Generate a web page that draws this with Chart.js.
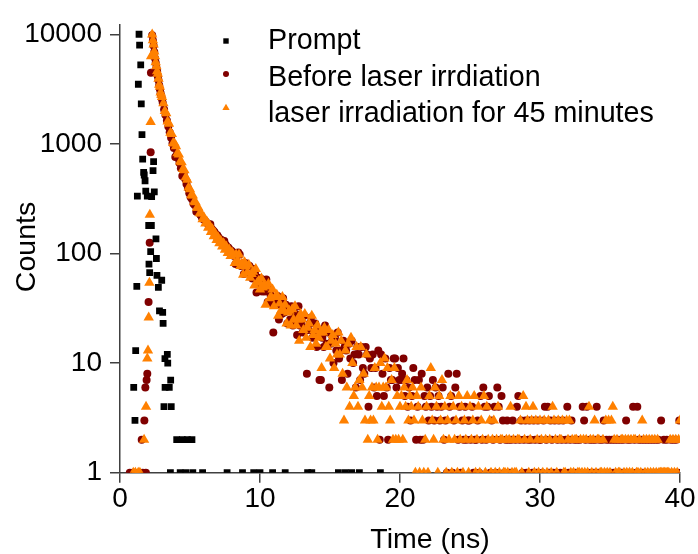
<!DOCTYPE html>
<html>
<head>
<meta charset="utf-8">
<script src="https://cdn.jsdelivr.net/npm/chart.js@4.4.1/dist/chart.umd.min.js"></script>
<style>
  html, body { margin: 0; padding: 0; background: #fff; }
  canvas { display: block; }
</style>
</head>
<body>
<canvas id="decay" width="698" height="554"></canvas>
<script>
// axis ticks
const xTicks = [0, 10, 20, 30, 40];
const yTicks = [1, 10, 100, 1000, 10000];
const seriesNames = ['Prompt', 'Before laser irrdiation', 'laser irradiation for 45 minutes'];

// [time (ns), counts]
const promptData = [
  [0.98,6],[1.07,3],[1.12,13],[1.2,50],[1.24,334],[1.31,3500],[1.36,10000],[1.4,7950],[1.48,5260],
  [1.52,2320],[1.57,1213],[1.62,725],[1.69,550],[1.73,520],[1.79,461],[1.84,370],[1.95,334],[2.05,180],
  [2.07,80],[2.12,67],[2.19,104],[2.24,180],[2.26,330],[2.36,570],[2.4,690],[2.45,365],[2.57,136],
  [2.6,90],[2.64,63],[2.74,49],[2.82,30],[2.98,57],[3.05,29],[3.08,23],[3.14,4],[3.21,11],[3.22,6],
  [3.38,12],[3.41,10],[3.52,6],[3.62,7],[3.66,4],[3.6,1],[4.05,2],[4.3,1],[4.45,2],[4.7,1],[4.81,2],
  [5.14,2],[5.2,1],[5.9,1],[7.65,1],[8.75,1],[9.55,1],[10,1],[10.9,1],[11.8,1],[13.4,1],[13.7,1],
  [15.6,1],[16.1,1],[16.55,1],[17.1,1],[18.6,1]
];

const beforeData = [
  [0.7,1],[0.9,1],[1.05,1],[1.62,1],[1.85,1],[1.55,2],[1.74,3],[1.81,6],[1.9,7],[1.95,8],[2.04,36],
  [2.12,125],[2.19,838],[2.21,4460],
  [2.3,9800],[2.35,8750],[2.4,7850],[2.45,6900],[2.5,6050],[2.55,5500],[2.6,4950],[2.65,4600],[2.7,4150],
  [2.75,3800],[2.8,3420],[2.85,3150],[2.9,2900],[2.95,2730],[3,2560],
  [3.05,2370],[3.15,2060],[3.25,1830],[3.35,1630],[3.45,1440],[3.55,1275],[3.65,1140],[3.75,1010],
  [3.85,915],[3.95,760],[4.05,795],[4.15,740],[4.25,670],[4.35,600],[4.45,510],[4.55,525],[4.65,480],
  [4.75,430],[4.85,395],[4.95,355],
  [5.05,326],[5.15,312],[5.25,285],[5.35,275],[5.45,240],[5.55,246],[5.65,235],[5.75,224],[5.85,213],
  [5.95,205],[6.05,201],[6.15,193],[6.25,188],[6.35,181],[6.45,185],[6.55,168],[6.65,162],[6.75,157],
  [6.85,149],[6.95,147],[7.05,140],[7.15,134],[7.25,133],[7.35,127],[7.45,130],[7.55,120],[7.65,115],
  [7.75,113],[7.85,108],[7.95,106],[8.05,103],
  [8.15,95],[8.25,80],[8.35,96],[8.45,102],[8.55,98],[8.65,77],[8.75,81],[8.85,65],[8.95,82],[9.05,75],
  [9.15,78],[9.25,77],[9.35,64],[9.45,59],[9.55,72],[9.65,65],[9.75,44],[9.85,60],[9.95,53],[10.05,59],
  [10.15,45],[10.25,51],[10.35,45],[10.45,58],[10.55,36],[10.65,47],[10.75,42],[10.85,35],[10.95,19],
  [11.05,35],[11.15,39],[11.25,41],[11.35,25],[11.45,34],[11.55,28],[11.65,39],[11.75,29],[11.85,34],
  [11.95,23],[12.05,30],
  [12.15,25],[12.25,33],[12.35,22],[12.45,26],[12.55,28],[12.65,18],[12.75,33],[12.85,22],[12.95,24],
  [13.05,19],[13.15,27],[13.25,21],[13.35,8],[13.45,20],[13.55,23],[13.65,26],[13.75,17],[13.85,18],
  [13.95,23],[14.05,14],[14.15,20],[14.25,7],[14.35,7],[14.45,17],[14.55,14],[14.65,22],[14.75,15],
  [14.85,19],[14.95,6],[15.05,15],[15.15,16],[15.25,10],[15.35,17],[15.45,13],[15.55,19],[15.65,11],
  [15.75,13],[15.85,7],[15.95,16],[16.05,14],
  [16.15,13],[16.25,8],[16.35,15],[16.45,11],[16.55,16],[16.65,10],[16.75,12],[16.85,6],[16.95,14],
  [17.05,12],[17.15,7],[17.25,14],[17.35,9],[17.45,8],[17.55,14],[17.65,12],[17.75,4],[17.85,11],
  [17.95,9],[18.05,12],[18.15,6],[18.25,9],[18.35,5],[18.45,13],[18.55,2],[18.65,12],[18.75,8],
  [18.85,5],[18.95,11],[19.05,6],[19.15,2],[19.25,9],[19.35,7],[19.45,7],[19.55,11],[19.65,11],
  [19.75,6],[19.85,9],[19.95,7],[20.05,7],
  [20.15,8],[20.25,11],[20.35,5],[20.45,7],[20.55,4],[20.65,6],[20.75,3],[20.85,5],[20.95,9],[21.05,7],
  [21.15,2],[21.25,4],[21.35,7],[21.45,2],[21.55,8],[21.65,2],[21.75,5],[21.85,4],[21.95,6],[22.05,3],
  [22.15,5],[22.25,4],[22.35,7],[22.45,3],[22.55,6],[22.65,4],[22.75,5],[22.85,3],[22.95,4],[23.05,6],
  [23.15,2],[23.25,3],[23.35,1],[23.45,8],[23.55,4],[23.65,5],[23.75,1],[23.85,3],[23.95,6],[24.05,8],
  [24.15,2],[24.25,4],[24.35,1],[24.45,3],[24.55,2],[24.65,4],[24.75,2],[24.85,3],[24.95,3],[25.05,2],
  [25.15,4],[25.25,1],[25.35,2],[25.45,2],[25.55,3],[25.65,1],[25.75,5],[25.85,2],[25.95,6],[26.05,4],
  [26.15,2],[26.25,4],[26.35,5],[26.45,1],[26.55,3],[26.65,2],[26.75,4],[26.85,1],[26.95,6],[27.05,4],
  [27.15,2],[27.25,5],[27.35,3],[27.45,1],[27.55,2],[27.65,3],[27.75,2],[27.85,1],[27.95,2],[28.05,3],
  [28.15,1],[28.25,2],[28.35,4],[28.45,5],[28.55,2],[28.65,3],[28.75,1],[28.85,2],[28.95,3],[29.05,1],
  [29.15,2],[29.25,3],[29.35,2],[29.45,1],[29.55,3],[29.65,2],[29.75,1],[29.85,3],[29.95,2],[30.05,2],
  [30.15,1],[30.25,3],[30.35,4],[30.45,2],[30.55,4],[30.65,1],[30.75,3],[30.85,2],[30.95,1],[31.05,3],
  [31.15,1],[31.25,2],[31.35,3],[31.45,1],[31.55,2],[31.65,3],[31.75,1],[31.85,2],[31.95,4],[32.05,1],
  [32.15,2],[32.25,3],[32.35,1],[32.45,2],[32.55,1],[32.65,2],[32.75,1],[32.85,2],[32.95,1],[33.05,4],
  [33.15,3],[33.25,2],[33.35,4],[33.45,1],[33.55,2],[33.65,1],[33.75,2],[33.85,1],[33.95,2],[34.05,4],
  [34.15,1],[34.25,2],[34.35,1],[34.45,2],[34.55,3],[34.65,1],[34.75,2],[34.85,1],[34.95,2],[35.05,1],
  [35.15,2],[35.25,1],[35.35,2],[35.45,1],[35.55,2],[35.65,1],[35.75,2],[35.85,1],[35.95,2],[36.05,1],
  [36.15,3],[36.25,2],[36.35,1],[36.45,2],[36.55,1],[36.65,4],[36.75,2],[36.85,1],[36.95,4],[37.05,2],
  [37.15,1],[37.25,2],[37.35,1],[37.45,2],[37.55,1],[37.65,2],[37.75,1],[37.85,2],[37.95,1],[38.05,2],
  [38.15,1],[38.25,2],[38.35,1],[38.45,2],[38.55,1],[38.65,3],[38.75,1],[38.85,2],[38.95,1],[39.05,2],
  [39.15,1],[39.25,1],[39.35,2],[39.45,1],[39.55,2],[39.65,1],[39.75,2],[39.85,1],[39.95,3]
];

const afterData = [
  [0.95,1],[1.1,1],[1.3,1],[1.42,1],[1.72,2],[1.86,4],[1.95,11],[2,13],[2.05,26],[2.1,54],[2.13,226],
  [2.19,1585],[2.22,6300],
  [2.3,9930],[2.35,8800],[2.4,8070],[2.45,6980],[2.5,6310],[2.55,5550],[2.6,5110],[2.65,4590],[2.7,4360],
  [2.75,3925],[2.8,3470],[2.85,3320],[2.9,2950],[2.95,2800],[3,2680],
  [3.1,2350],[3.2,1990],[3.3,1900],[3.4,1600],[3.5,1530],[3.6,1260],[3.7,1230],[3.8,1020],[3.9,1010],
  [4,950],[4.1,820],[4.2,800],[4.3,690],[4.4,680],[4.5,590],[4.6,575],[4.7,495],[4.8,470],[4.9,400],[5,385],
  [5.1,340],[5.2,338],[5.3,296],[5.4,294],[5.5,262],[5.6,262],[5.7,233],[5.8,232],[5.9,205],[6,213],
  [6.1,188],[6.2,196],[6.3,172],[6.4,180],[6.5,157],[6.6,166],[6.7,144],[6.8,152],[6.9,133],[7,141],
  [7.1,124],[7.2,131],[7.3,116],[7.4,124],[7.5,108],[7.6,116],[7.7,101],[7.8,109],[7.9,95],[8,102],
  [8.1,98],[8.2,82],[8.3,98],[8.4,86],[8.5,98],[8.6,77],[8.7,81],[8.8,64],[8.9,83],[9,76],
  [9.1,67],[9.2,79],[9.3,60],[9.4,65],[9.5,68],[9.6,51],[9.7,72],[9.8,54],[9.9,56],[10,47],
  [10.1,59],[10.2,49],[10.3,52],[10.4,34],[10.5,50],[10.6,53],[10.7,39],[10.8,40],[10.9,47],[11,33],
  [11.1,40],[11.2,42],[11.3,27],[11.4,35],[11.5,30],[11.6,40],[11.7,30],[11.8,34],[11.9,23],[12,29],
  [12.1,30],[12.2,22],[12.3,31],[12.4,25],[12.5,33],[12.6,22],[12.7,25],[12.8,16],[12.9,28],[13,25],
  [13.1,20],[13.2,28],[13.3,17],[13.4,21],[13.5,23],[13.6,14],[13.7,27],[13.8,18],[13.9,20],[14,15],
  [14.1,22],[14.2,17],[14.3,19],[14.4,9],[14.5,19],[14.6,21],[14.7,14],[14.8,14],[14.9,20],[15,11],
  [15.1,16],[15.2,18],[15.3,9],[15.4,15],[15.5,12],[15.6,19],[15.7,12],[15.8,16],[15.9,8],[16,3],
  [16.1,13],[16.2,6],[16.3,15],[16.4,4],[16.5,17],[16.6,10],[16.7,5],[16.8,6],[16.9,14],[17,4],
  [17.1,7],[17.2,14],[17.3,6],[17.4,8],[17.5,3],[17.6,12],[17.7,2],[17.8,5],[17.9,3],[18,6],
  [18.1,3],[18.2,9],[18.3,6],[18.4,2],[18.5,6],[18.6,10],[18.7,4],[18.8,6],[18.9,11],[19,6],
  [19.1,9],[19.2,4],[19.3,3],[19.4,7],[19.5,2],[19.6,9],[19.7,2],[19.8,5],[19.9,2],[20,4],
  [20.1,5],[20.2,2],[20.3,6],[20.4,4],[20.5,7],[20.6,3],[20.7,5],[20.8,4],[20.9,6],[21,3],
  [21.1,1],[21.2,5],[21.3,4],[21.4,1],[21.5,6],[21.6,3],[21.7,1],[21.8,2],[21.9,4],[22,1],
  [22.1,5],[22.2,9],[22.3,3],[22.4,2],[22.5,6],[22.6,4],[22.7,1],[22.8,5],[22.9,3],[23,7],
  [23.1,2],[23.2,4],[23.3,1],[23.4,3],[23.5,2],[23.6,5],[23.7,1],[23.8,4],[23.9,2],[24,3],
  [24.1,1],[24.2,5],[24.3,2],[24.4,4],[24.5,1],[24.6,3],[24.7,2],[24.8,5],[24.9,1],[25,4],
  [25.1,2],[25.2,3],[25.3,5],[25.4,1],[25.5,2],[25.6,4],[25.7,1],[25.8,3],[25.9,2],[26,5],
  [26.1,1],[26.2,4],[26.3,2],[26.4,3],[26.5,1],[26.6,2],[26.7,3],[26.8,1],[26.9,2],[27,4],
  [27.1,1],[27.2,2],[27.3,2],[27.4,1],[27.5,1],[27.6,2],[27.7,1],[27.8,2],[27.9,4],[28,1],
  [28.1,2],[28.2,1],[28.3,1],[28.4,2],[28.5,2],[28.6,3],[28.7,1],[28.8,5],[28.9,2],[29,4],
  [29.1,3],[29.2,1],[29.3,2],[29.4,3],[29.5,4],[29.6,1],[29.7,3],[29.8,2],[29.9,1],[30,3],
  [30.1,2],[30.2,1],[30.3,3],[30.4,2],[30.5,1],[30.6,3],[30.7,2],[30.8,1],[30.9,4],[31,3],
  [31.1,2],[31.2,1],[31.3,3],[31.4,2],[31.5,2],[31.6,3],[31.7,1],[31.8,1],[31.9,3],[32,2],
  [32.1,3],[32.2,1],[32.3,2],[32.4,1],[32.5,2],[32.6,2],[32.7,1],[32.8,1],[32.9,2],[33,1],
  [33.1,2],[33.2,1],[33.3,2],[33.4,1],[33.5,4],[33.6,2],[33.7,1],[33.8,2],[33.9,3],[34,1],
  [34.1,2],[34.2,2],[34.3,1],[34.4,1],[34.5,2],[34.6,1],[34.7,3],[34.8,1],[34.9,3],[35,1],
  [35.1,3],[35.2,4],[35.3,2],[35.4,1],[35.5,2],[35.6,1],[35.7,1],[35.8,2],[35.9,2],[36,1],
  [36.1,2],[36.2,1],[36.3,2],[36.4,1],[36.5,2],[36.6,1],[36.7,2],[36.8,2],[36.9,1],[37,1],
  [37.1,2],[37.2,1],[37.3,3],[37.4,2],[37.5,1],[37.6,2],[37.7,1],[37.8,2],[37.9,1],[38,2],
  [38.1,1],[38.2,2],[38.3,1],[38.4,2],[38.5,1],[38.6,1],[38.7,1],[38.8,1],[38.9,1],[39,1],
  [39.1,1],[39.2,1],[39.3,2],[39.4,1],[39.5,2],[39.6,1],[39.7,2],[39.8,1],[39.9,2],[40,3]
];

const FONT = "'Liberation Sans', Arial, Helvetica, sans-serif";
const AXIS_COLOR = '#404040';
const COLORS = ['#000000', '#800000', '#ff8000'];

const toXY = (pairs) => pairs.map(([x, y]) => ({ x: x, y: y }));

function marker(ctx, style, x, y, r) {
  ctx.beginPath();
  if (style === 'rect') {
    ctx.rect(x - r, y - r, 2 * r, 2 * r);
  } else if (style === 'circle') {
    ctx.arc(x, y, r, 0, Math.PI * 2);
  } else {
    ctx.moveTo(x, y - r);
    ctx.lineTo(x + r * 0.87, y + r * 0.5);
    ctx.lineTo(x - r * 0.87, y + r * 0.5);
    ctx.closePath();
  }
  ctx.fill();
}

// legend inside the frame + axis titles
const overlay = {
  id: 'overlay',
  afterDraw(chart) {
    const ctx = chart.ctx;
    ctx.save();
    const styles = ['rect', 'circle', 'triangle'];
    const sizes = [2.7, 3, 4.2];
    const markY = [41, 74, 108];
    const textY = [48.5, 85.5, 121.5];
    seriesNames.forEach((name, i) => {
      ctx.fillStyle = COLORS[i];
      marker(ctx, styles[i], 226, markY[i], sizes[i]);
      ctx.fillStyle = '#000';
      ctx.font = '28.7px ' + FONT;
      ctx.textAlign = 'left';
      ctx.textBaseline = 'alphabetic';
      ctx.fillText(name, 268, textY[i]);
    });
    ctx.font = '28.5px ' + FONT;
    ctx.textAlign = 'center';
    ctx.fillText('Time (ns)', 430, 548);
    ctx.translate(35, 247);
    ctx.rotate(-Math.PI / 2);
    ctx.fillText('Counts', 0, 0);
    ctx.restore();
  }
};

const axisCommon = {
  grid: { drawOnChartArea: false, drawTicks: true, tickLength: 10, color: AXIS_COLOR, lineWidth: 1.5 },
  border: { display: true, color: AXIS_COLOR, width: 1.5 },
  ticks: { color: '#000', font: { family: FONT, size: 28 } }
};

new Chart(document.getElementById('decay'), {
  type: 'scatter',
  data: {
    datasets: [
      { label: seriesNames[0], data: toXY(promptData), pointStyle: 'rect', pointRadius: 4.8,
        backgroundColor: COLORS[0], borderWidth: 0, order: 0 },
      { label: seriesNames[1], data: toXY(beforeData), pointStyle: 'circle', pointRadius: 4,
        backgroundColor: COLORS[1], borderWidth: 0, order: 2 },
      { label: seriesNames[2], data: toXY(afterData), pointStyle: 'triangle', pointRadius: 6,
        backgroundColor: COLORS[2], borderWidth: 0, order: 1 }
    ]
  },
  options: {
    responsive: false,
    animation: false,
    devicePixelRatio: 1,
    layout: { padding: { top: 15, right: 18, left: 0, bottom: 0 } },
    datasets: { scatter: { clip: 0 } },
    plugins: { legend: { display: false }, tooltip: { enabled: false } },
    scales: {
      x: {
        ...axisCommon,
        type: 'linear',
        min: 0,
        max: 40,
        afterBuildTicks: (scale) => { scale.ticks = xTicks.map(v => ({ value: v })); },
        afterFit: (scale) => { scale.height = 81.3; },
        ticks: { ...axisCommon.ticks, padding: 0 }
      },
      y: {
        ...axisCommon,
        type: 'logarithmic',
        min: 1,
        max: 12200,
        afterBuildTicks: (scale) => { scale.ticks = yTicks.map(v => ({ value: v })); },
        afterFit: (scale) => { scale.width = 120; },
        ticks: { ...axisCommon.ticks, padding: 8, callback: (v) => String(v) }
      }
    }
  },
  plugins: [overlay]
});
</script>
</body>
</html>
